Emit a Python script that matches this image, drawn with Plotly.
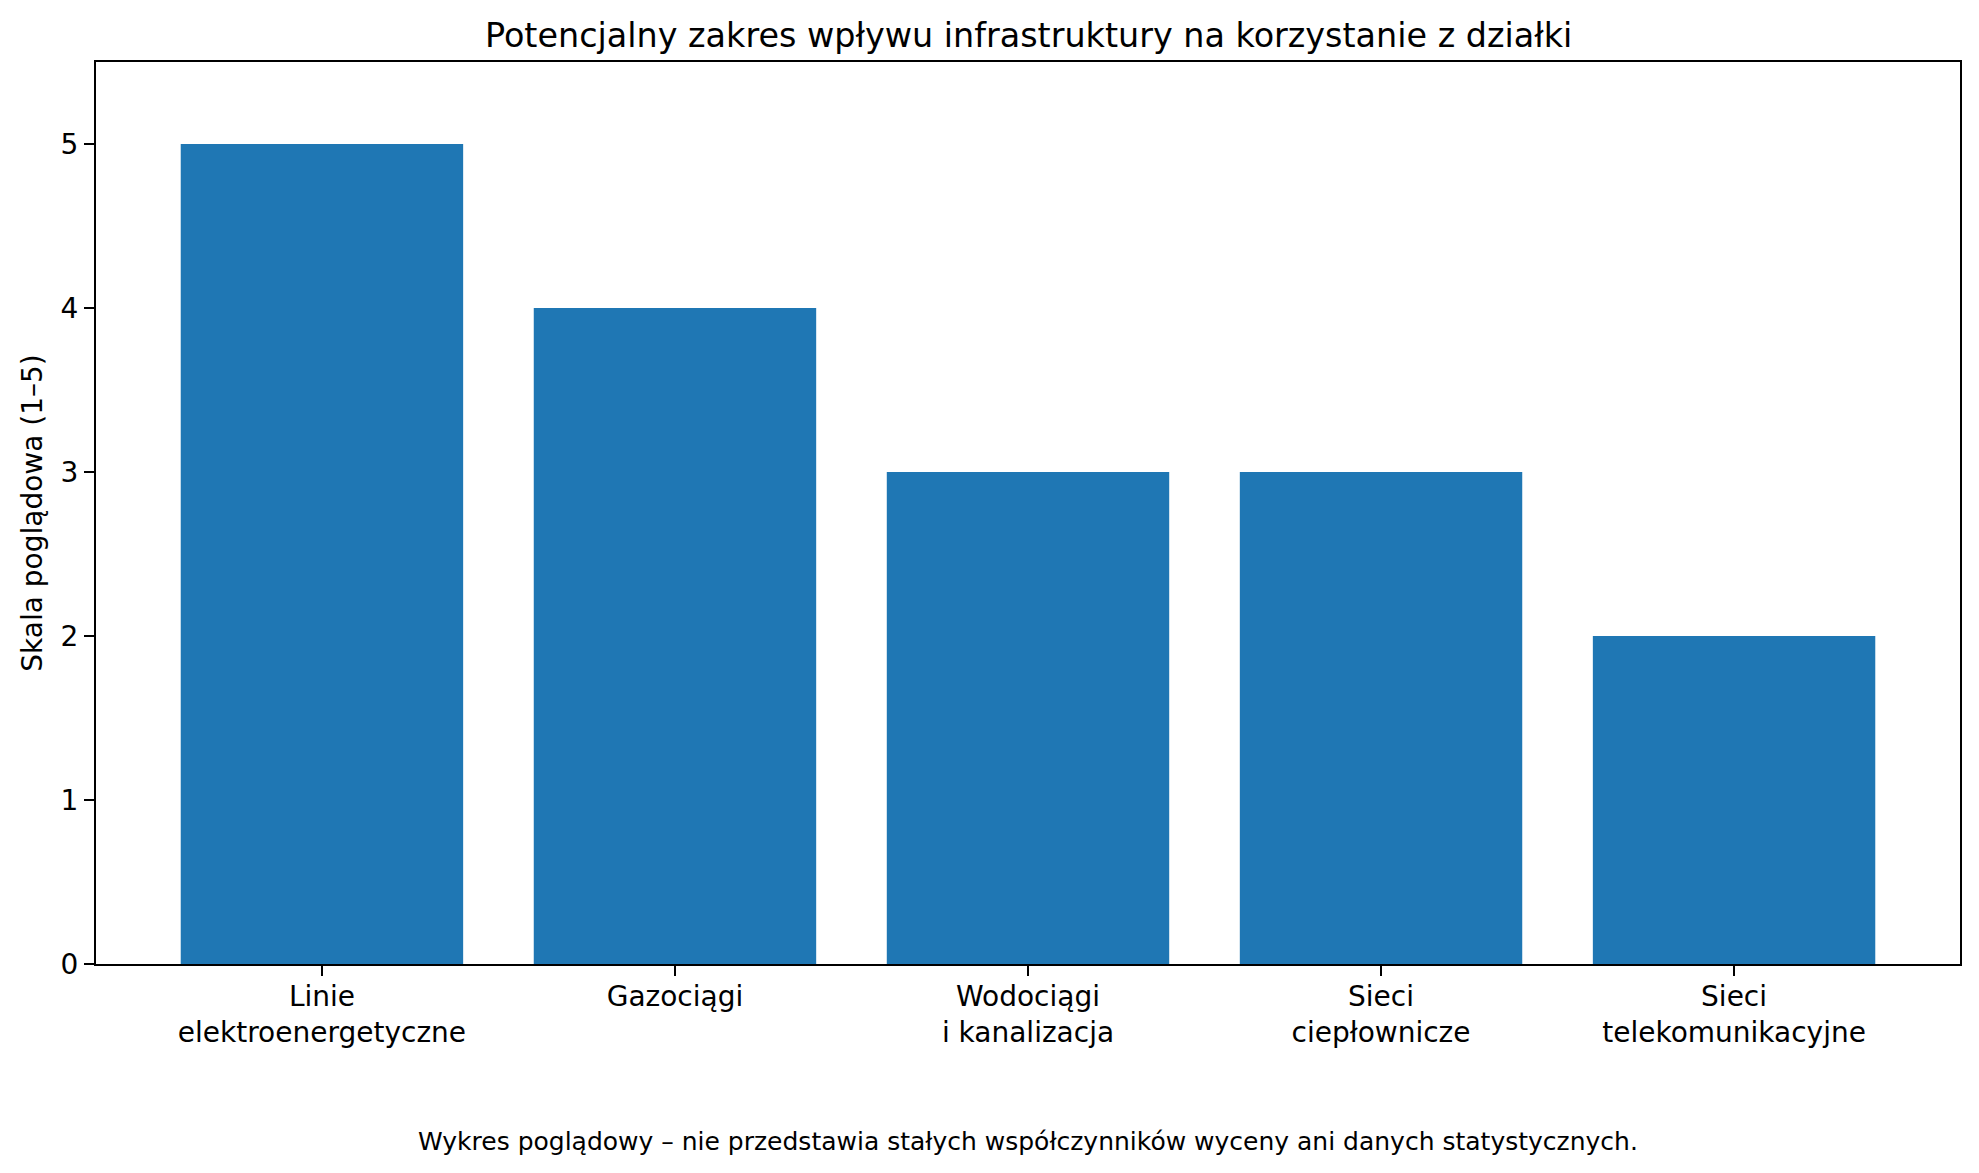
import plotly.graph_objects as go

categories = [
    "Linie<br>elektroenergetyczne",
    "Gazociągi",
    "Wodociągi<br>i kanalizacja",
    "Sieci<br>ciepłownicze",
    "Sieci<br>telekomunikacyjne",
]
scores = [5, 4, 3, 3, 2]
y_ticks = [0, 1, 2, 3, 4, 5]

title_text = "Potencjalny zakres wpływu infrastruktury na korzystanie z działki"
y_title = "Skala poglądowa (1–5)"
footnote = "Wykres poglądowy – nie przedstawia stałych współczynników wyceny ani danych statystycznych."

font_family = "DejaVu Sans"

fig = go.Figure()

fig.add_trace(
    go.Bar(
        x=list(range(len(categories))),
        y=scores,
        width=0.8,
        marker=dict(color="#1f77b4", line_width=0),
        showlegend=False,
    )
)

# the page body adds an 8px offset, so margins are shifted by that amount
fig.update_layout(
    width=1979,
    height=1173,
    margin=dict(l=88, r=27, t=54, b=217),
    plot_bgcolor="white",
    paper_bgcolor="white",
    font=dict(family=font_family, size=28, color="black"),
    annotations=[
        dict(
            text=title_text,
            xref="paper",
            yref="paper",
            x=0.5,
            y=1.029,
            xanchor="center",
            yanchor="middle",
            showarrow=False,
            font=dict(size=33.4, family=font_family, color="black"),
        ),
        dict(
            text=footnote,
            xref="paper",
            yref="paper",
            x=0.5,
            y=-0.197,
            xanchor="center",
            yanchor="middle",
            showarrow=False,
            font=dict(size=25, family=font_family, color="black"),
        ),
    ],
)

fig.update_xaxes(
    range=[-0.64, 4.64],
    tickmode="array",
    tickvals=list(range(len(categories))),
    ticktext=categories,
    ticks="outside",
    ticklen=10,
    tickwidth=2,
    tickcolor="black",
    ticklabelstandoff=-4,
    showline=True,
    linecolor="black",
    linewidth=2,
    mirror=True,
    showgrid=False,
    zeroline=False,
    tickfont=dict(size=28),
)

fig.update_yaxes(
    range=[0, 5.5],
    tickmode="array",
    tickvals=y_ticks,
    ticks="outside",
    ticklen=10,
    tickwidth=2,
    tickcolor="black",
    showline=True,
    linecolor="black",
    linewidth=2,
    mirror=True,
    showgrid=False,
    zeroline=False,
    tickfont=dict(size=28),
    title=dict(text=y_title, standoff=10, font=dict(size=28)),
)

fig.write_html("out.html")
